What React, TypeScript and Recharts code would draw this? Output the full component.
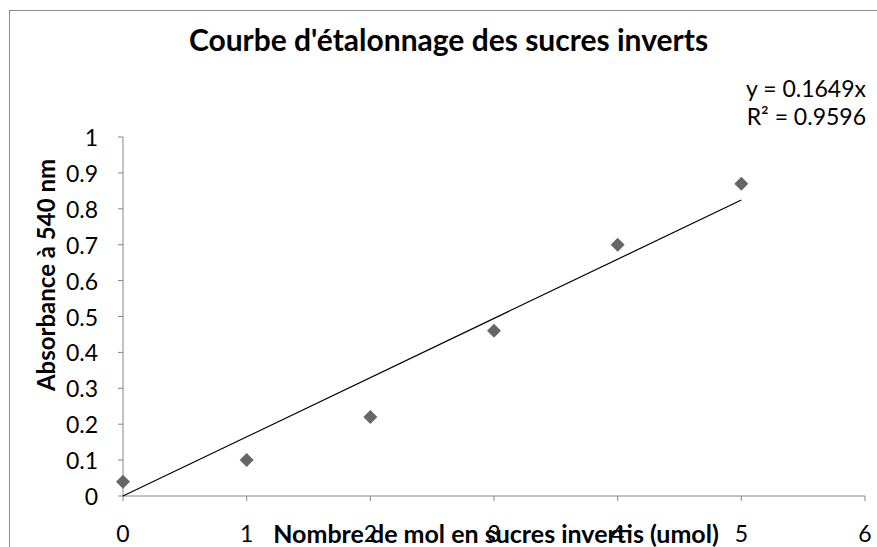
import React from "react";
import { ScatterChart, Scatter, XAxis, YAxis } from "recharts";

const xValues = [0, 1, 2, 3, 4, 5];
const absorbance = [0.04, 0.1, 0.22, 0.46, 0.7, 0.87];
const trendX = [0, 5];
const trendY = [0, 0.8245];
const xTicks = [0, 1, 2, 3, 4, 5, 6];
const yTicks = [0, 0.1, 0.2, 0.3, 0.4, 0.5, 0.6, 0.7, 0.8, 0.9, 1];

const points = xValues.map((x, i) => ({ x, y: absorbance[i] }));
const trend = trendX.map((x, i) => ({ x, y: trendY[i] }));

const FONT = "Lato, 'Noto Sans', sans-serif";
const AXIS = "#868686";

const Diamond = (props: any) => {
  const { cx, cy } = props;
  if (cx == null || cy == null) return null;
  const r = 7;
  return (
    <path
      d={`M${cx},${cy - r} L${cx + r},${cy} L${cx},${cy + r} L${cx - r},${cy} Z`}
      fill="#666666"
    />
  );
};

const YTick = (props: any) => {
  const { x, y, payload } = props;
  return (
    <text x={x} y={y} textAnchor="end" dominantBaseline="central" fontFamily={FONT} fontSize={23} fill="#000">
      {String(payload.value)}
    </text>
  );
};

const XTick = (props: any) => {
  const { x, y, payload } = props;
  return (
    <text x={x} y={y + 41} textAnchor="middle" fontFamily={FONT} fontSize={23} fill="#000">
      {String(payload.value)}
    </text>
  );
};

export default function App() {
  return (
    <div style={{ position: "absolute", left: 0, top: 0, width: 877, height: 547, background: "#fff", overflow: "hidden" }}>
      <div
        style={{
          position: "absolute",
          left: 9,
          top: 10,
          width: 900,
          height: 600,
          borderLeft: "1px solid #8c8c8c",
          borderTop: "1px solid #8c8c8c",
        }}
      />
      <ScatterChart width={877} height={547} margin={{ top: 137, right: 12, bottom: 6, left: 63 }}>
        <XAxis
          type="number"
          dataKey="x"
          domain={[0, 6]}
          ticks={xTicks}
          interval={0}
          stroke={AXIS}
          tickLine={{ stroke: AXIS }}
          tickSize={5}
          tickMargin={0}
          height={45}
          tick={<XTick />}
          allowDecimals
        />
        <YAxis
          type="number"
          dataKey="y"
          domain={[0, 1]}
          ticks={yTicks}
          interval={0}
          stroke={AXIS}
          tickLine={{ stroke: AXIS }}
          tickSize={5}
          tickMargin={20}
          width={60}
          tick={<YTick />}
        />
        <Scatter data={trend} line={{ stroke: "#000", strokeWidth: 1.2 }} shape={() => null} isAnimationActive={false} />
        <Scatter data={points} shape={<Diamond />} isAnimationActive={false} />
      </ScatterChart>
      <div
        style={{
          position: "absolute",
          left: 0,
          width: 897,
          top: 21,
          textAlign: "center",
          fontFamily: FONT,
          fontWeight: "bold",
          fontSize: 30,
          lineHeight: "36px",
          color: "#000",
        }}
      >
        Courbe d'étalonnage des sucres inverts
      </div>
      <div
        style={{
          position: "absolute",
          right: 11,
          top: 74,
          textAlign: "right",
          fontFamily: FONT,
          fontSize: 23,
          lineHeight: "28px",
          color: "#000",
        }}
      >
        <div>y = 0.1649x</div>
        <div>R² = 0.9596</div>
      </div>
      <div
        style={{
          position: "absolute",
          left: 496 - 300,
          width: 600,
          top: 518,
          textAlign: "center",
          fontFamily: FONT,
          fontWeight: "bold",
          fontSize: 25,
          lineHeight: "30px",
          color: "#000",
        }}
      >
        Nombre de mol en sucres invertis (umol)
      </div>
      <div
        style={{
          position: "absolute",
          left: 46 - 150,
          top: 275 - 14,
          width: 300,
          height: 28,
          transform: "rotate(-90deg)",
          textAlign: "center",
          fontFamily: FONT,
          fontWeight: "bold",
          fontSize: 24,
          lineHeight: "28px",
          color: "#000",
        }}
      >
        Absorbance à 540 nm
      </div>
    </div>
  );
}
